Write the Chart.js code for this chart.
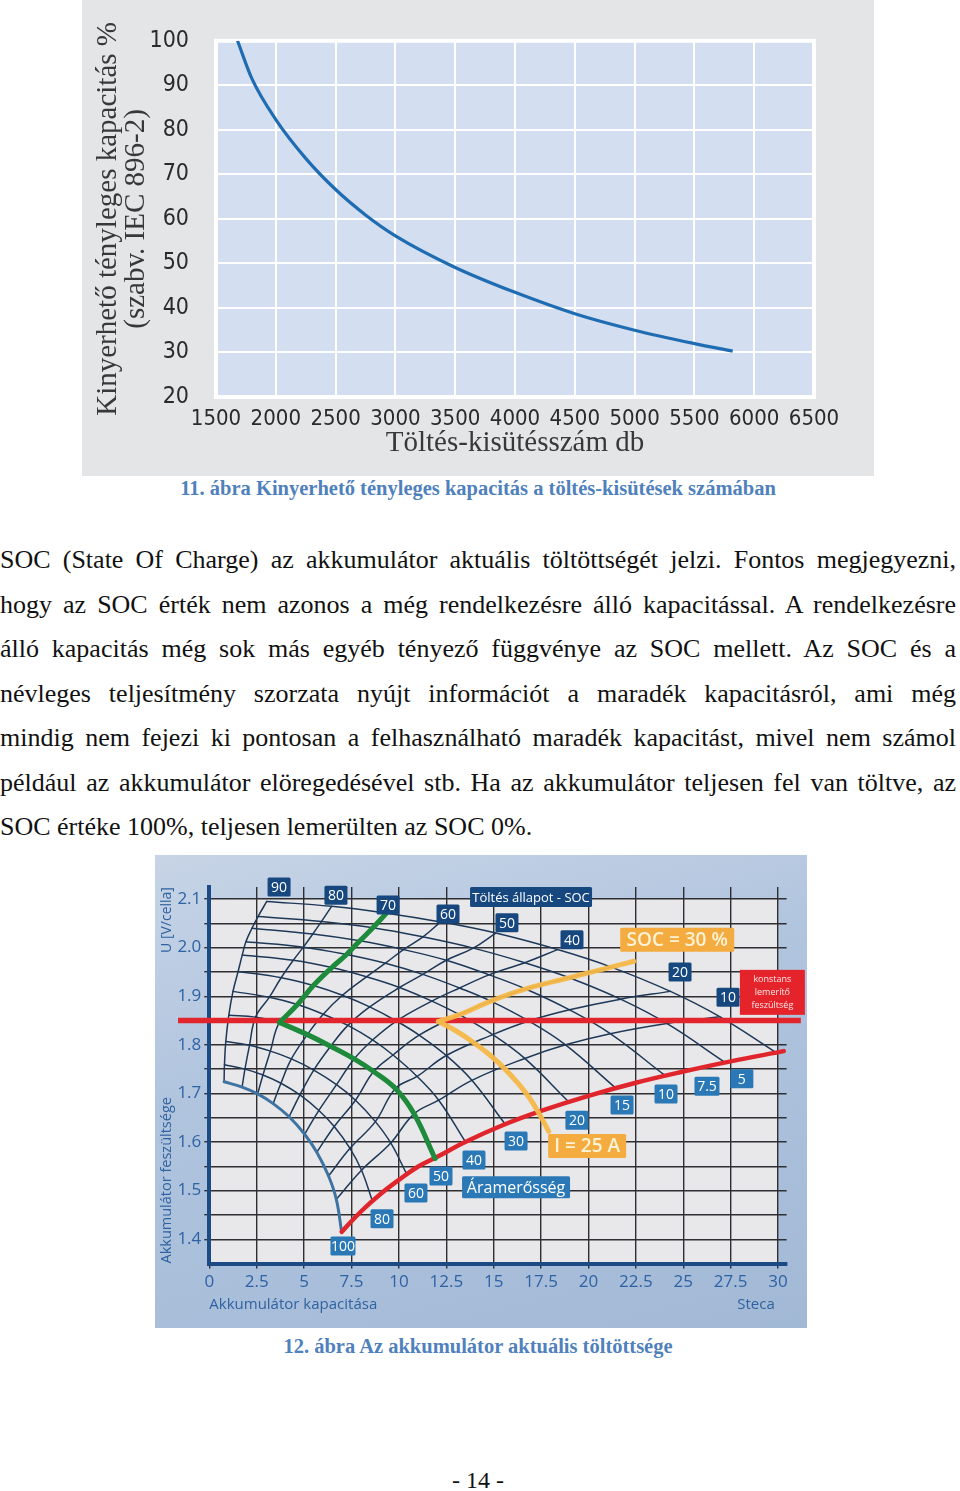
<!DOCTYPE html>
<html lang="hu">
<head>
<meta charset="utf-8">
<title>Akkumulátor kapacitás és töltöttség</title>
<script src="https://cdn.jsdelivr.net/npm/chart.js"></script>
<style>
  html, body { margin: 0; padding: 0; background: #fff; }
  body { width: 960px; height: 1491px; position: relative; overflow: hidden;
         font-family: 'Liberation Serif', 'DejaVu Serif', serif; color: #111; }
  #fig1 { position: absolute; left: 82px; top: 0; width: 792px; height: 476px; background: #e4e5e7; }
  #fig2 { position: absolute; left: 155px; top: 855px; width: 652px; height: 473px;
          background: linear-gradient(165deg, #c7d4e6 0%, #b0c4de 40%, #a2b9d6 100%); }
  canvas { display: block; }
  .caption { position: absolute; left: 0; width: 956px; text-align: center; font-weight: bold;
             font-size: 20.5px; line-height: 24px; color: #4f81bd; }
  #text { position: absolute; left: 0; top: 538px; width: 956px; font-size: 26px; line-height: 44.5px; }
  #text div { text-align: justify; text-align-last: justify; }
  #text div.last { text-align-last: left; }
  #pageno { position: absolute; left: 0; width: 956px; top: 1465px; text-align: center; font-size: 24px; line-height: 30px; }
</style>
</head>
<body>
<div id="fig1"><canvas id="c1" width="792" height="476"></canvas></div>
<div class="caption" style="top:476px">11. ábra Kinyerhető tényleges kapacitás a töltés-kisütések számában</div>

<div id="text">
  <div>SOC (State Of Charge) az akkumulátor aktuális töltöttségét jelzi. Fontos megjegyezni,</div>
  <div>hogy az SOC érték nem azonos a még rendelkezésre álló kapacitással. A rendelkezésre</div>
  <div>álló kapacitás még sok más egyéb tényező függvénye az SOC mellett. Az SOC és a</div>
  <div>névleges teljesítmény szorzata nyújt információt a maradék kapacitásról, ami még</div>
  <div>mindig nem fejezi ki pontosan a felhasználható maradék kapacitást, mivel nem számol</div>
  <div>például az akkumulátor elöregedésével stb. Ha az akkumulátor teljesen fel van töltve, az</div>
  <div class="last">SOC értéke 100%, teljesen lemerülten az SOC 0%.</div>
</div>

<div id="fig2"><canvas id="c2" width="652" height="473"></canvas></div>
<div class="caption" style="top:1334px">12. ábra Az akkumulátor aktuális töltöttsége</div>
<div id="pageno">- 14 -</div>

<script>
// ---------- 11. ábra: kapacitás a ciklusszám függvényében ----------
const cycleCounts = [1680, 1800, 2000, 2250, 2500, 2750, 3000, 3500, 4000, 4500, 5000, 5500, 5820];
const capacityPct = [100, 91.5, 82.3, 73.6, 66.6, 60.9, 56.2, 49.1, 43.5, 38.7, 35.0, 32.0, 30.3];
const cycleTicks = [1500, 2000, 2500, 3000, 3500, 4000, 4500, 5000, 5500, 6000, 6500];
const capacityTicks = [20, 30, 40, 50, 60, 70, 80, 90, 100];

// ---------- 12. ábra: nomogram ----------
// áramerősség-görbék (A), felülről lefelé
const currentLabels = ['5', '7.5', '10', '15', '20', '30', '40', '50', '60', '80', '100'];
// töltöttségi szintek a görbék mentén (90 = bal szél, 0 = piros görbe)
const socLevels = [90, 80, 70, 60, 50, 40, 30, 20, 10, 0];
// kapacitás (Ah) a görbék pontjainál, soronként egy áramerősség
const arcX = [
  [3.03, 6.45, 9.35, 12.20, 15.11, 18.37, 21.20, 24.32, 26.92, 29.90],
  [2.57, 5.92, 8.63, 11.27, 13.92, 16.64, 18.99, 21.69, 24.13, 27.20],
  [2.25, 5.46, 7.94, 10.24, 12.50, 14.76, 16.69, 19.00, 21.15, 24.00],
  [1.93, 4.96, 7.24, 9.29, 11.26, 13.20, 14.85, 16.85, 18.79, 21.41],
  [1.74, 4.43, 6.46, 8.29, 10.03, 11.74, 13.19, 14.95, 16.64, 18.90],
  [1.52, 3.79, 5.49, 7.02, 8.46, 9.87, 11.07, 12.50, 13.85, 15.60],
  [1.25, 3.17, 4.65, 6.01, 7.31, 8.61, 9.69, 10.96, 12.10, 13.50],
  [1.03, 2.44, 3.70, 5.17, 6.40, 7.64, 8.67, 9.82, 10.80, 11.91],
  [0.87, 2.12, 3.22, 4.33, 5.51, 6.71, 7.71, 8.76, 9.57, 10.40],
  [0.80, 1.88, 2.83, 3.78, 4.78, 5.78, 6.59, 7.42, 8.03, 8.60],
  [0.78, 1.73, 2.55, 3.37, 4.21, 5.03, 5.67, 6.29, 6.70, 6.98]
];
// cellafeszültség (V) ugyanezeken a pontokon
const arcY = [
  [2.095, 2.085, 2.071, 2.053, 2.030, 1.996, 1.960, 1.910, 1.858, 1.784],
  [2.064, 2.054, 2.041, 2.022, 1.999, 1.969, 1.938, 1.894, 1.844, 1.764],
  [2.040, 2.028, 2.014, 1.996, 1.974, 1.944, 1.915, 1.872, 1.823, 1.738],
  [2.012, 2.001, 1.986, 1.968, 1.945, 1.917, 1.890, 1.849, 1.800, 1.712],
  [1.985, 1.974, 1.959, 1.940, 1.918, 1.890, 1.862, 1.821, 1.772, 1.685],
  [1.951, 1.938, 1.922, 1.902, 1.878, 1.849, 1.820, 1.778, 1.727, 1.637],
  [1.910, 1.898, 1.883, 1.863, 1.840, 1.810, 1.779, 1.735, 1.686, 1.601],
  [1.861, 1.857, 1.846, 1.821, 1.797, 1.771, 1.745, 1.710, 1.658, 1.566],
  [1.807, 1.799, 1.787, 1.771, 1.748, 1.718, 1.686, 1.642, 1.598, 1.535],
  [1.759, 1.750, 1.738, 1.721, 1.697, 1.665, 1.632, 1.587, 1.542, 1.479],
  [1.724, 1.713, 1.699, 1.679, 1.652, 1.616, 1.579, 1.530, 1.482, 1.415]
];
// piros görbe: a kisütés vége
const endCurveX = [6.98, 8.0, 9.0, 10.0, 11.0, 12.0, 13.5, 15.5, 17.5, 20.0, 22.5, 25.0, 27.5, 30.3];
const endCurveY = [1.415, 1.457, 1.492, 1.522, 1.549, 1.569, 1.600, 1.635, 1.664, 1.695, 1.722, 1.745, 1.766, 1.787];
// konstans lemerítő feszültség
const cutoffVoltage = 1.85;
const cutoffX = [-1.65, 31.2];
// példa: SOC = 30 %, I = 25 A (narancs)
const exampleSocX = [22.4, 21.20, 18.99, 16.69, 14.85, 13.19, 12.08];
const exampleSocY = [1.972, 1.960, 1.938, 1.915, 1.890, 1.862, 1.848];
const exampleCurX = [12.08, 13.0, 13.9, 14.8, 15.6, 16.3, 16.9, 17.4, 17.9];
const exampleCurY = [1.848, 1.829, 1.806, 1.779, 1.750, 1.720, 1.690, 1.658, 1.622];
const capacityTicks2 = [0, 2.5, 5, 7.5, 10, 12.5, 15, 17.5, 20, 22.5, 25, 27.5, 30];
const voltageGrid = [1.4, 1.45, 1.5, 1.55, 1.6, 1.65, 1.7, 1.75, 1.8, 1.85, 1.9, 1.95, 2.0, 2.05, 2.1];

// címkék elhelyezése (adategységben)
const socBoxPos = { '90': [3.68, 2.125], '80': [6.68, 2.108], '70': [9.43, 2.088], '60': [12.59, 2.069],
                    '50': [15.70, 2.051], '40': [19.13, 2.016], '20': [24.83, 1.950], '10': [27.36, 1.898] };
const currentBoxPos = { '100': [7.05, 1.386], '80': [9.11, 1.442], '60': [10.9, 1.495], '50': [12.22, 1.530],
                        '40': [13.96, 1.563], '30': [16.18, 1.602], '20': [19.39, 1.645], '15': [21.77, 1.676],
                        '10': [24.09, 1.699], '7.5': [26.25, 1.715], '5': [28.09, 1.730] };

Chart.defaults.animation = false;
Chart.defaults.events = [];

const SANS_NARROW = "'Liberation Sans Narrow', 'DejaVu Sans Condensed', Roboto, sans-serif";
const SERIF = "'Liberation Serif', 'DejaVu Serif', serif";
const SANS = "'Open Sans', 'Noto Sans', sans-serif";

// ---- 1. diagram ----
const plotFrame = {
  id: 'plotFrame',
  beforeDraw(chart) {
    const { ctx, chartArea: a } = chart;
    ctx.save();
    ctx.fillStyle = '#d3dff0';
    ctx.fillRect(a.left, a.top, a.right - a.left, a.bottom - a.top);
    ctx.restore();
  },
  beforeDatasetsDraw(chart) {
    const { ctx, chartArea: a } = chart;
    ctx.save();
    ctx.strokeStyle = '#ffffff';
    ctx.lineWidth = 4;
    ctx.strokeRect(a.left, a.top, a.right - a.left, a.bottom - a.top);
    ctx.restore();
  }
};

new Chart(document.getElementById('c1'), {
  type: 'scatter',
  data: {
    datasets: [{
      data: cycleCounts.map((x, i) => ({ x, y: capacityPct[i] })),
      showLine: true, borderColor: '#1f6cb2', borderWidth: 3.2,
      pointRadius: 0, cubicInterpolationMode: 'monotone', fill: false
    }]
  },
  options: {
    responsive: false,
    layout: { padding: { top: 31, right: 60, bottom: 0, left: 0 } },
    plugins: { legend: { display: false }, tooltip: { enabled: false } },
    scales: {
      x: {
        type: 'linear', min: 1500, max: 6500,
        afterBuildTicks: s => { s.ticks = cycleTicks.map(v => ({ value: v })); },
        afterFit: s => { s.height = 79; },
        grid: { color: '#ffffff', lineWidth: 2, drawTicks: false },
        border: { display: false },
        ticks: { padding: 9, color: '#2a2a2a', font: { family: SANS_NARROW, size: 22, weight: '500' }, callback: v => String(v) },
        title: { display: true, text: 'Töltés-kisütésszám db', color: '#383838',
                 font: { family: SERIF, size: 29 }, padding: { top: 0, bottom: 15 } }
      },
      y: {
        type: 'linear', min: 20, max: 100,
        afterBuildTicks: s => { s.ticks = capacityTicks.map(v => ({ value: v })); },
        afterFit: s => { s.width = 134; },
        grid: { color: '#ffffff', lineWidth: 2, drawTicks: false },
        border: { display: false },
        ticks: { padding: 27, color: '#2a2a2a', font: { family: SANS_NARROW, size: 23, weight: '500' }, callback: v => String(v) },
        title: { display: true, text: ['Kinyerhető tényleges kapacitás %', '(szabv. IEC 896-2)'], color: '#383838',
                 font: { family: SERIF, size: 29, lineHeight: '28px' }, padding: { top: 12, bottom: 0 } }
      }
    }
  },
  plugins: [plotFrame]
});

// ---- 2. diagram ----
const toPts = (xs, ys) => xs.map((x, i) => ({ x, y: ys[i] }));
const lineDs = (pts, color, width, extra) => Object.assign({
  data: pts, showLine: true, borderColor: color, borderWidth: width,
  pointRadius: 0, tension: 0.4, fill: false, clip: false, borderCapStyle: 'round'
}, extra || {});

const NAVY = '#1e3858';
const ORANGE = 'rgba(246,184,72,0.95)';
const datasets2 = [];
datasets2.push(lineDs(toPts(exampleSocX, exampleSocY), ORANGE, 5));
datasets2.push(lineDs(toPts(exampleCurX, exampleCurY), ORANGE, 5));
// zöld példa: SOC 70 % vonalán a lemerítő feszültségig, majd az 50 A-es görbén
const arc50 = currentLabels.indexOf('50');
const socCol70 = socLevels.indexOf(70);
const greenUp = arcX.slice(0, arc50 + 1).map((row, i) => ({ x: row[socCol70], y: arcY[i][socCol70] }));
const greenDown = arcX[arc50].slice(socCol70).map((x, j) => ({ x, y: arcY[arc50][socCol70 + j] }));
datasets2.push(lineDs(greenUp, '#1e8a3c', 5));
datasets2.push(lineDs(greenDown, '#1e8a3c', 5));
datasets2.push(lineDs(cutoffX.map(x => ({ x, y: cutoffVoltage })), '#e2252c', 5.5, { tension: 0, borderCapStyle: 'butt' }));
datasets2.push(lineDs(toPts(endCurveX, endCurveY), '#e0262c', 4.5));
arcX.forEach((row, i) => {
  const outer = currentLabels[i] === '100';
  datasets2.push(lineDs(toPts(row, arcY[i]), outer ? '#3f73a2' : NAVY, outer ? 3 : 1.5));
});
for (let k = 0; k < socLevels.length - 1; k++) {
  const pts = arcX.map((row, i) => ({ x: row[k], y: arcY[i][k] })).reverse();
  datasets2.push(lineDs(pts, NAVY, 1.5));
}

function roundRect(ctx, x, y, w, h, r) {
  ctx.beginPath();
  ctx.moveTo(x + r, y);
  ctx.arcTo(x + w, y, x + w, y + h, r);
  ctx.arcTo(x + w, y + h, x, y + h, r);
  ctx.arcTo(x, y + h, x, y, r);
  ctx.arcTo(x, y, x + w, y, r);
  ctx.closePath();
}

const nomogramDecor = {
  id: 'nomogramDecor',
  beforeDraw(chart) {
    const { ctx, scales: { x, y } } = chart;
    ctx.save();
    ctx.fillStyle = '#e8e8ea';
    const l = x.getPixelForValue(0), r = x.getPixelForValue(30);
    const t = y.getPixelForValue(2.1), b = y.getPixelForValue(1.35);
    ctx.fillRect(l, t, r - l, b - t);
    ctx.restore();
  },
  afterDatasetsDraw(chart) {
    const { ctx, scales: { x, y } } = chart;
    const box = (text, xv, yv, w, h, bg, fg, font) => {
      const cx = x.getPixelForValue(xv), cy = y.getPixelForValue(yv);
      ctx.fillStyle = bg;
      roundRect(ctx, cx - w / 2, cy - h / 2, w, h, 1.5);
      ctx.fill();
      ctx.fillStyle = fg;
      ctx.font = font;
      ctx.textAlign = 'center';
      ctx.textBaseline = 'middle';
      ctx.fillText(text, cx, cy + 1);
    };
    ctx.save();
    Object.keys(socBoxPos).forEach(k => {
      const [xv, yv] = socBoxPos[k];
      box(k, xv, yv, 23, 19, '#16487f', '#ffffff', `14px ${SANS}`);
    });
    currentLabels.forEach(k => {
      const [xv, yv] = currentBoxPos[k];
      box(k, xv, yv, k.length > 2 ? 25 : 23, 19, '#2a78b6', '#ffffff', `14px ${SANS}`);
    });
    box('Töltés állapot - SOC', 16.97, 2.104, 122, 20, '#16487f', '#ffffff', `13px ${SANS}`);
    box('Áramerősség', 16.18, 1.507, 108, 22, '#2a78b6', '#ffffff', `16px ${SANS}`);
    box('SOC = 30 %', 24.68, 2.016, 114, 24, '#f4ab3f', '#fff3d6', `600 19px ${SANS}`);
    box('I = 25 A', 19.93, 1.592, 78, 24, '#f4ab3f', '#fff3d6', `600 19px ${SANS}`);
    // konstans lemerítő feszültség
    const rx = x.getPixelForValue(29.7), ry = y.getPixelForValue(1.908);
    ctx.fillStyle = '#e5232a';
    ctx.fillRect(rx - 32.5, ry - 22.5, 65, 45);
    ctx.fillStyle = '#ffe9e9';
    ctx.font = `9px ${SANS}`;
    ['konstans', 'lemerítő', 'feszültség'].forEach((s, i) => ctx.fillText(s, rx, ry - 13 + i * 13));
    // tengelyfelirat és logó
    ctx.fillStyle = '#2f62a0';
    ctx.font = `14px ${SANS}`;
    ctx.save();
    ctx.translate(12, 65);
    ctx.rotate(-Math.PI / 2);
    ctx.fillText('U [V/cella]', 0, 0);
    ctx.restore();
    ctx.font = `15px ${SANS}`;
    ctx.fillText('Steca', 601, 450);
    ctx.restore();
  }
};

new Chart(document.getElementById('c2'), {
  type: 'scatter',
  data: { datasets: datasets2 },
  options: {
    responsive: false,
    layout: { padding: { top: 31.9, right: 20.4, bottom: 0, left: 0 } },
    plugins: { legend: { display: false }, tooltip: { enabled: false } },
    scales: {
      x: {
        type: 'linear', min: 0, max: 30.45,
        afterBuildTicks: s => { s.ticks = capacityTicks2.map(v => ({ value: v })); },
        afterFit: s => { s.height = 64.5; },
        grid: { color: '#2e2e33', lineWidth: 1.4, tickLength: 5 },
        border: { display: true, color: '#1b4a84', width: 4 },
        ticks: { padding: 3, color: '#2d62a4', font: { family: SANS, size: 17 }, callback: v => String(v) },
        title: { display: true, align: 'start', text: 'Akkumulátor kapacitása', color: '#2f62a0',
                 font: { family: SANS, size: 15 }, padding: { top: 0, bottom: 14 } }
      },
      y: {
        type: 'linear', min: 1.35, max: 2.125,
        afterBuildTicks: s => { s.ticks = voltageGrid.map(v => ({ value: v })); },
        afterFit: s => { s.width = 54.3; },
        grid: { color: '#2e2e33', lineWidth: 1.4, tickLength: 5 },
        border: { display: true, color: '#1b4a84', width: 4 },
        ticks: { padding: 3, color: '#2d62a4', font: { family: SANS, size: 17 },
                 callback: v => (Math.round(v * 100) % 10 === 0 ? v.toFixed(1) : '') },
        title: { display: true, align: 'start', text: 'Akkumulátor feszültsége', color: '#2f62a0',
                 font: { family: SANS, size: 14.5 }, padding: { top: 3, bottom: 0 } }
      }
    }
  },
  plugins: [nomogramDecor]
});
</script>
</body>
</html>
